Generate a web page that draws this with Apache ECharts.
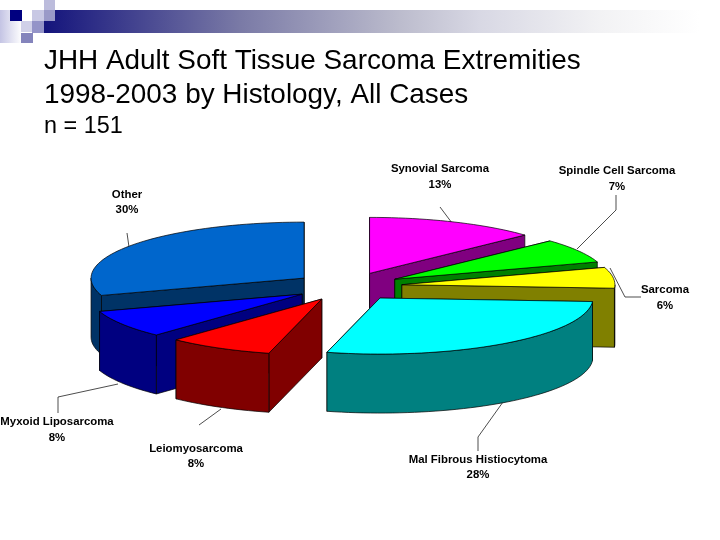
<!DOCTYPE html>
<html><head><meta charset="utf-8">
<style>html,body{margin:0;padding:0;background:#fff}#c{width:720px;height:540px}</style>
<script src="https://cdn.jsdelivr.net/npm/echarts@6/dist/echarts.min.js"></script>
</head><body><div id="c"></div>
<script>
// Data, clockwise from 12 o'clock
const categories = ['Synovial Sarcoma','Spindle Cell Sarcoma','Sarcoma','Mal Fibrous Histiocytoma','Leiomyosarcoma','Myxoid Liposarcoma','Other'];
const percents = [13,7,6,28,8,8,30];
const topColors = ['#ff00ff','#00ff00','#ffff00','#00ffff','#ff0000','#0000ff','#0066cc'];
const sideColors = ['#800080','#008000','#808000','#008080','#800000','#000080','#003366'];
// Label anchors (centre of the two-line label) and leader lines
const labelPos = [[440,177],[617,179],[665,298],[478,467.5],[196,456.5],[57,430],[127,202.5]];
const leaders = [
  [[440,207],[452,223]],
  [[616,195],[616,210],[577,249]],
  [[610,268],[625,297],[641,297]],
  [[503,402],[478,437],[478,451]],
  [[221,409],[199,425]],
  [[118,384],[58,397],[58,413]],
  [[127,233],[129,247]]
];
// 3D pie layout
const pie = {cx:348, cy:286.5, rx:213, ry:56, depth:59, explode:0.255};
const total = percents.reduce((a,b)=>a+b,0);
let acc = 0;
const slices = percents.map((v,i)=>{
  const a1 = acc/total*360; acc += v; const a2 = acc/total*360;
  return {i, a1, a2, mid:(a1+a2)/2};
});
const cosd = a=>Math.cos(a*Math.PI/180);
const drawOrder = slices.slice().sort((p,q)=>cosd(q.mid)-cosd(p.mid));

function pt(s,a,dz){
  const m=s.mid*Math.PI/180;
  const ax=pie.cx+pie.explode*pie.rx*Math.sin(m), ay=pie.cy-pie.explode*pie.ry*Math.cos(m);
  if(a===null) return [ax,ay+dz];
  const r=a*Math.PI/180;
  return [ax+pie.rx*Math.sin(r), ay-pie.ry*Math.cos(r)+dz];
}
function arc(s,from,to,dz){
  const out=[]; const n=Math.max(2,Math.ceil((to-from)/2));
  for(let k=0;k<=n;k++) out.push(pt(s,from+(to-from)*k/n,dz));
  return out;
}
function renderSlice(params){
  const s=drawOrder[params.dataIndex], d=pie.depth;
  const style=c=>({fill:c,stroke:'#000',lineWidth:0.7,lineJoin:'round'});
  const side=sideColors[s.i], kids=[];
  const apex=pt(s,null,0), apexB=pt(s,null,d);
  [s.a1,s.a2].sort((x,y)=>cosd(y)-cosd(x)).forEach(a=>{
    kids.push({type:'polygon',shape:{points:[apex,pt(s,a,0),pt(s,a,d),apexB]},style:style(side)});
  });
  const f=Math.max(s.a1,90), t=Math.min(s.a2,270);
  if(t>f){
    kids.push({type:'polygon',shape:{points:arc(s,f,t,0).concat(arc(s,f,t,d).reverse())},style:style(side)});
  }
  kids.push({type:'polygon',shape:{points:[apex].concat(arc(s,s.a1,s.a2,0))},style:style(topColors[s.i])});
  return {type:'group',children:kids};
}
function renderLabel(params){
  const i=params.dataIndex, p=labelPos[i];
  return {type:'group',children:[
    {type:'polyline',shape:{points:leaders[i]},style:{stroke:'#000',lineWidth:0.7,fill:null}},
    {type:'text',style:{x:p[0],y:p[1],text:categories[i]+'\n'+percents[i]+'%',align:'center',verticalAlign:'middle',
      font:'bold 11.4px "Liberation Sans"',fill:'#000',lineHeight:15.5}}
  ]};
}
const L = (x,y,w,h,fill)=>({type:'rect',shape:{x,y,width:w,height:h},style:{fill},silent:true});
const grad = stops=>({type:'linear',x:0,y:0,x2:1,y2:0,colorStops:stops.map(s=>({offset:s[0],color:s[1]}))});
const ts = s=>({fontFamily:'Liberation Sans',fontWeight:'normal',fontSize:s,color:'#000'});
const chart=echarts.init(document.getElementById('c'),null,{renderer:'canvas'});
chart.setOption({
  animation:false,
  backgroundColor:'#fff',
  title:[
    {text:'JHH Adult Soft Tissue Sarcoma Extremities',left:44,top:47,textStyle:ts(27.9),padding:0},
    {text:'1998-2003 by Histology, All Cases',left:44,top:81,textStyle:ts(27.9),padding:0},
    {text:'n = 151',left:44,top:115,textStyle:ts(23.4),padding:0}
  ],
  graphic:[
    L(44,10,676,23,grad([[0,'#14147c'],[0.29,'#7a7aa6'],[0.527,'#bcbccd'],[0.645,'#d8d8e4'],[0.822,'#f2f2f4'],[0.97,'#ffffff'],[1,'#ffffff']])),
    L(0,10,22,33,grad([[0,'#c4c4e4'],[1,'#ffffff']])),
    L(10,10,12,11,'#000080'),
    L(32,10,12,11,'#c8c8e4'),
    L(44,10,11,11,'#9a9ac8'),
    L(44,0,11,10,'#bcbcdc'),
    L(21,21,11,11,'#d0d0e8'),
    L(32,21,12,12,'#9494c8'),
    L(21,33,12,10,'#8484bc')
  ],
  series:[
    {type:'custom',coordinateSystem:'none',renderItem:renderLabel,data:categories.map((c,i)=>[percents[i]]),silent:true,z:1},
    {type:'custom',coordinateSystem:'none',renderItem:renderSlice,data:drawOrder.map(s=>[percents[s.i]]),silent:true,z:2}
  ]
});
</script></body></html>
